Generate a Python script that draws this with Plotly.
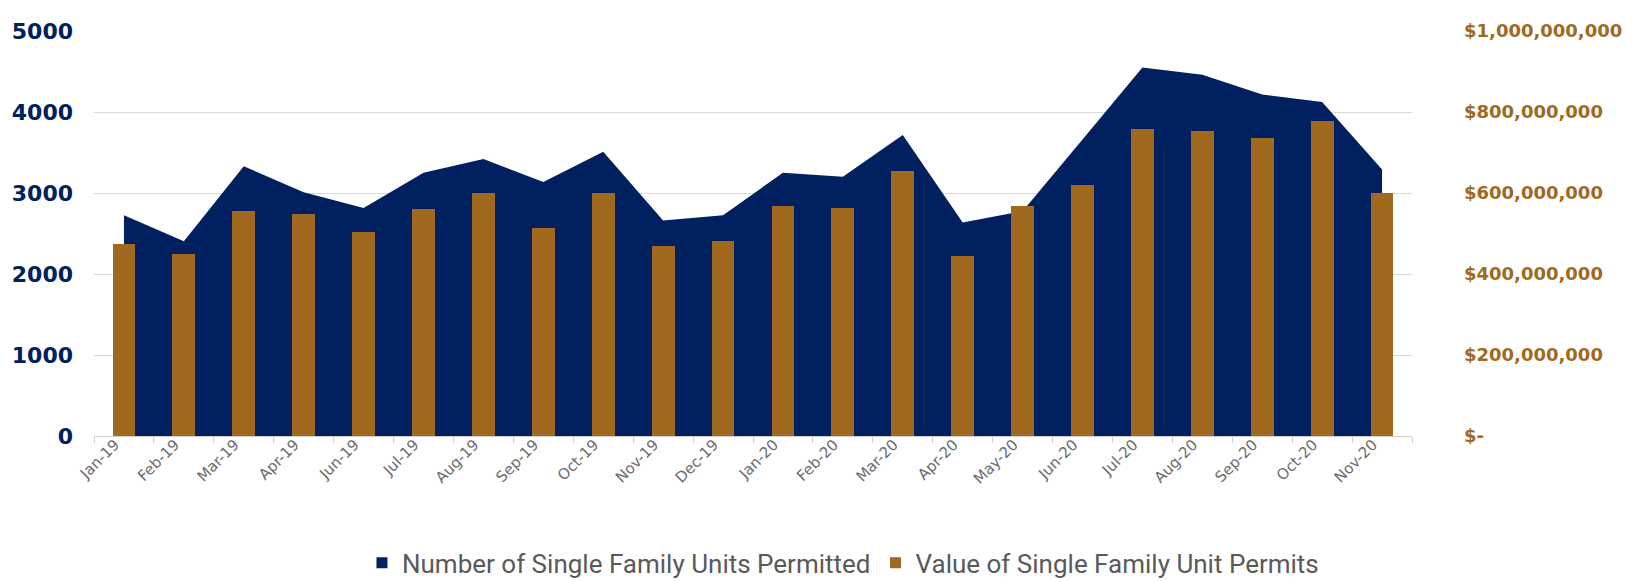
import plotly.graph_objects as go

months = ["Jan-19", "Feb-19", "Mar-19", "Apr-19", "Jun-19", "Jul-19", "Aug-19", "Sep-19",
          "Oct-19", "Nov-19", "Dec-19", "Jan-20", "Feb-20", "Mar-20", "Apr-20", "May-20",
          "Jun-20", "Jul-20", "Aug-20", "Sep-20", "Oct-20", "Nov-20"]
units_permitted = [2725, 2405, 3330, 3010, 2815, 3250, 3420, 3135, 3510, 2660, 2725, 3250,
                   3200, 3715, 2635, 2775, 3660, 4550, 4460, 4215, 4125, 3290]
permit_value = [473e6, 450e6, 555e6, 548e6, 504e6, 560e6, 601e6, 514e6, 601e6, 468e6, 481e6,
                568e6, 563e6, 655e6, 445e6, 568e6, 620e6, 758e6, 753e6, 735e6, 777e6, 601e6]

left_ticks = [0, 1000, 2000, 3000, 4000, 5000]
right_tickvals = [0, 200e6, 400e6, 600e6, 800e6, 1000e6]
right_ticktext = ["$-", "$200,000,000", "$400,000,000", "$600,000,000", "$800,000,000",
                  "$1,000,000,000"]

NAME_UNITS = "Number of Single Family Units Permitted"
NAME_VALUE = "Value of Single Family Unit Permits"

NAVY = "#002060"
GOLD = "#A0691E"
GREY = "#595959"
AXIS_FONT = "DejaVu Sans"
LEGEND_FONT = "Roboto"

fig = go.Figure()
fig.add_trace(go.Scatter(
    x=months, y=units_permitted, name=NAME_UNITS,
    mode="none", fill="tozeroy", fillcolor=NAVY,
    yaxis="y", showlegend=False))
fig.add_trace(go.Bar(
    x=months, y=permit_value, name=NAME_VALUE,
    marker=dict(color=GOLD, line=dict(width=0)), width=0.38, yaxis="y2",
    showlegend=False))
# legend swatches (square markers, as in the original)
fig.add_trace(go.Scatter(x=[None], y=[None], mode="markers", name=NAME_UNITS,
                         marker=dict(symbol="square", size=11, color=NAVY)))
fig.add_trace(go.Scatter(x=[None], y=[None], mode="markers", name=NAME_VALUE,
                         marker=dict(symbol="square", size=11, color=GOLD)))

fig.update_layout(
    width=1634, height=581,
    margin=dict(l=86, r=230, t=23, b=153, autoexpand=False),
    plot_bgcolor="white", paper_bgcolor="white",
    showlegend=True,
    legend=dict(orientation="h", xref="container", yref="container",
                x=0.511, xanchor="center", y=0.045, yanchor="middle",
                font=dict(family=LEGEND_FONT, size=26, color=GREY), itemwidth=30,
                traceorder="normal"),
    xaxis=dict(type="category", tickangle=-45, automargin=False,
               tickfont=dict(family=AXIS_FONT, size=15, color="#6b6b6b"),
               showline=True, linecolor="#d0d0d0", linewidth=1,
               ticks="outside", ticklen=6, tickcolor="#d0d0d0",
               tickson="boundaries", showgrid=False, ticklabelshift=-9,
               ticklabelstandoff=-7,
               range=[-0.5, len(months) - 0.5]),
    yaxis=dict(range=[0, 5000], tickvals=left_ticks, automargin=False,
               tickfont=dict(family=AXIS_FONT, size=22, color=NAVY, weight="bold"),
               showgrid=True, gridcolor="#d9d9d9", gridwidth=1,
               zeroline=False, ticklabelstandoff=20),
    yaxis2=dict(range=[0, 1000e6], overlaying="y", side="right", automargin=False,
                tickvals=right_tickvals, ticktext=right_ticktext,
                tickfont=dict(family=AXIS_FONT, size=18, color=GOLD, weight="bold"),
                showgrid=False, zeroline=False, ticklabelstandoff=51),
    bargap=0,
)

fig.write_html("out.html")
